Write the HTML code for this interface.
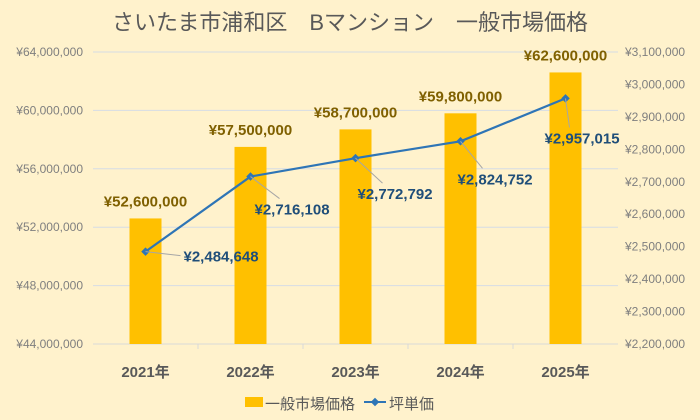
<!DOCTYPE html>
<html><head><meta charset="utf-8"><style>
body{margin:0;background:#FFF2CC;}
svg{display:block;font-family:"Liberation Sans","Noto Sans CJK JP",sans-serif;}
</style></head><body>
<svg id="c" width="700" height="420">
<rect width="700" height="420" fill="#FFF2CC"/>
<text x="350" y="30" text-anchor="middle" font-size="22" fill="#595959">さいたま市浦和区　Bマンション　一般市場価格</text>
<g id="grid"></g><g id="bars"></g><g id="line"></g><g id="labels"></g>
<g>
<rect x="245" y="397" width="18" height="10" fill="#FFC000"/>
<text x="265" y="409" font-size="15" fill="#595959">一般市場価格</text>
<line x1="364" y1="402" x2="386" y2="402" stroke="#2E75B6" stroke-width="2"/>
<rect x="372" y="399" width="6" height="6" fill="#2E75B6" transform="rotate(45 375 402)"/>
<text x="389" y="409" font-size="15" fill="#595959">坪単価</text>
</g>
</svg>
<script>
const categories=["2021年","2022年","2023年","2024年","2025年"];
const marketPrice=[52600000,57500000,58700000,59800000,62600000];
const tsuboPrice=[2484648,2716108,2772792,2824752,2957015];
const leftTicks=[44000000,48000000,52000000,56000000,60000000,64000000];
const rightTicks=[2200000,2300000,2400000,2500000,2600000,2700000,2800000,2900000,3000000,3100000];
const NS="http://www.w3.org/2000/svg";
const T=52,B=344,L=93,R=618;
const yL=v=>B-(v-44000000)/20000000*(B-T);
const yR=v=>B-(v-2200000)/900000*(B-T);
const band=(R-L)/categories.length;
const xC=i=>L+band*(i+0.5);
const fmt=v=>"¥"+v.toLocaleString("en-US");
function mk(tag,attrs,parent,text){const e=document.createElementNS(NS,tag);for(const k in attrs)e.setAttribute(k,attrs[k]);if(text!==undefined)e.textContent=text;document.getElementById(parent).appendChild(e);return e;}
leftTicks.forEach(v=>{
 const g=mk("line",{x1:L,x2:R,y1:yL(v),y2:yL(v),stroke:v===44000000?"#D9D9D9":"#D6DCE5","stroke-width":1},"grid");
 
 
 const t=mk("text",{x:83,y:yL(v)+4,"text-anchor":"end","font-size":12,fill:"#7F7F7F"},"grid",fmt(v));
 
 
});
rightTicks.forEach(v=>{
 const t=mk("text",{x:625,y:yR(v)+4,"font-size":12,fill:"#7F7F7F"},"grid",fmt(v));
 
 
});
for(let i=1;i<categories.length;i++){
 const tk=mk("line",{x1:L+band*i,x2:L+band*i,y1:B,y2:B+5,stroke:"#D9D9D9"},"grid");
 
 
}
categories.forEach((c,i)=>{
 const b=mk("rect",{x:xC(i)-16,y:yL(marketPrice[i]),width:32,height:B-yL(marketPrice[i]),fill:"#FFC000"},"bars");
 
 
 const t=mk("text",{x:xC(i),y:377,"text-anchor":"middle","font-size":15,"font-weight":"bold",fill:"#595959"},"labels",c);
 
 
 const bl=mk("text",{x:xC(i),y:yL(marketPrice[i])-12,"text-anchor":"middle","font-size":15,"font-weight":"bold",fill:"#7F6000"},"labels",fmt(marketPrice[i]));
 
 
});
const pts=tsuboPrice.map((v,i)=>[xC(i),yR(v)]);
const pl=mk("polyline",{points:pts.map(p=>p.join(",")).join(" "),fill:"none",stroke:"#2E75B6","stroke-width":2.2},"line");


const offs=[[38,10],[4,38],[2,41],[-3,43],[-21,45]];
pts.forEach((p,i)=>{
 const m=mk("rect",{x:p[0]-3,y:p[1]-3,width:6,height:6,fill:"#2E75B6",transform:`rotate(45 ${p[0]} ${p[1]})`},"line");
 
 
 const lx=p[0]+offs[i][0],ly=p[1]+offs[i][1];
 const ex=i===0?lx-3:lx+25, ey=i===0?ly-6:ly-16;
 const ld=mk("line",{x1:p[0],y1:p[1],x2:ex,y2:ey,stroke:"#A6A6A6","stroke-width":1},"labels");
 
 
 const t=mk("text",{x:lx,y:ly,"font-size":15,"font-weight":"bold",fill:"#1F4E79"},"labels",fmt(tsuboPrice[i]));
 
 
});
</script>
</body></html>
